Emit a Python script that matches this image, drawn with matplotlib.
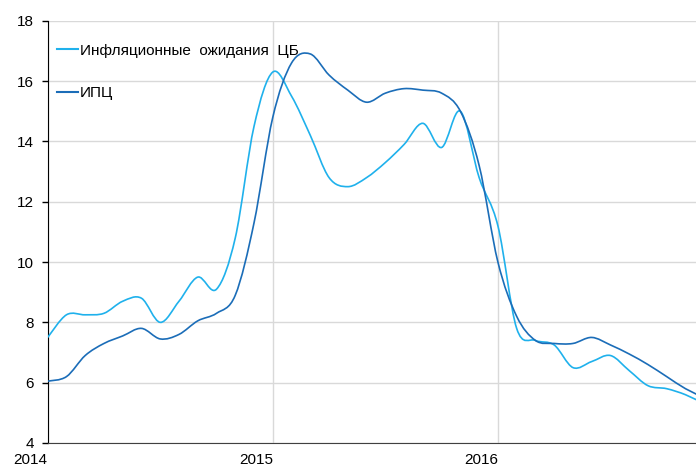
import numpy as np
import matplotlib.pyplot as plt
from matplotlib.path import Path
from matplotlib.patches import PathPatch
from matplotlib.lines import Line2D

plt.rcParams['font.family'] = ['Liberation Sans', 'DejaVu Sans']

# monthly points, Jan 2014 .. Dec 2016
months = np.arange(36)
expect_cb = [7.5, 8.25, 8.25, 8.3, 8.7, 8.8, 8.0, 8.7, 9.5, 9.1, 10.8, 14.5,
             16.3, 15.5, 14.2, 12.8, 12.5, 12.8, 13.3, 13.9, 14.6, 13.8, 15.0, 12.8,
             11.2, 7.8, 7.4, 7.25, 6.5, 6.7, 6.9, 6.4, 5.9, 5.8, 5.6, 5.3]
cpi = [6.05, 6.2, 6.9, 7.3, 7.55, 7.8, 7.45, 7.6, 8.05, 8.3, 8.9, 11.3,
       14.8, 16.6, 16.9, 16.2, 15.7, 15.3, 15.6, 15.75, 15.7, 15.6, 15.0, 13.2,
       10.0, 8.2, 7.4, 7.3, 7.3, 7.5, 7.25, 6.95, 6.6, 6.2, 5.8, 5.5]
labels = ['Инфляционные  ожидания  ЦБ', 'ИПЦ']
colors = ['#1fb1ec', '#1b6db8']
years = [2014, 2015, 2016]


def smooth_path(x, y):
    # Catmull-Rom spline as cubic Bezier segments (like Excel smoothed lines)
    pts = np.column_stack([x, y])
    verts = [pts[0]]
    codes = [Path.MOVETO]
    n = len(pts)
    for i in range(n - 1):
        p0 = pts[max(i - 1, 0)]
        p1 = pts[i]
        p2 = pts[i + 1]
        p3 = pts[min(i + 2, n - 1)]
        verts += [p1 + (p2 - p0) / 6, p2 - (p3 - p1) / 6, p2]
        codes += [Path.CURVE4] * 3
    return Path(verts, codes)


fig = plt.figure(figsize=(6.96, 4.66), dpi=100)
ax = fig.add_axes([0.0685, 0.0494, 0.9315, 0.906])

x = 2014 + months / 12
for vals, c in zip([expect_cb, cpi], colors):
    patch = PathPatch(smooth_path(x, vals), facecolor='none', edgecolor=c,
                      lw=1.2, transform=ax.transData, zorder=3)
    ax.add_patch(patch)

ax.set_xlim(2014, 2016.88)
ax.set_ylim(4, 18)
ax.set_yticks(range(4, 19, 2))
ax.set_xticks(years)
ax.set_xticklabels([str(y) for y in years], ha='right')

ax.grid(True, color='#d9d9d9', lw=1)
ax.set_axisbelow(True)
for s in ['top', 'right']:
    ax.spines[s].set_visible(False)
ax.spines['left'].set_color('black')
ax.spines['bottom'].set_color('#404040')
ax.tick_params(axis='y', length=4, width=1, pad=6, labelsize=11)
ax.tick_params(axis='x', length=0, pad=7, labelsize=11)

handles = [Line2D([], [], color=c, lw=1.5) for c in colors]
ax.legend(handles, labels, loc='upper left', bbox_to_anchor=(0.005, 0.96),
          frameon=False, fontsize=11, handlelength=1.4, handletextpad=0.1,
          labelspacing=1.85, borderaxespad=0)

fig.savefig('out.png', dpi=100)
